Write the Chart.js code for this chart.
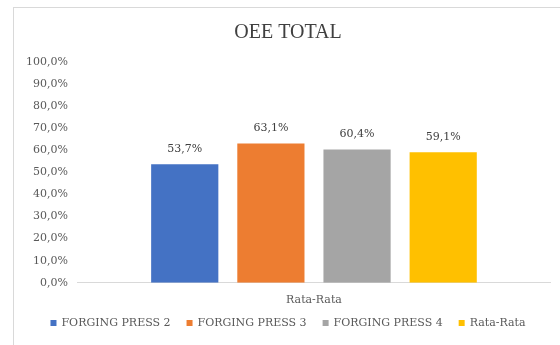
<!DOCTYPE html>
<html>
<head>
<meta charset="utf-8">
<script src="https://cdn.jsdelivr.net/npm/chart.js@4"></script>
<style>
  body { margin: 0; background: #fff; }
  #frame { position: absolute; left: 13px; top: 7px; width: 560px; height: 400px; border: 1px solid #d9d9d9; box-sizing: border-box; }
  #wrap { position: absolute; left: 0; top: 0; width: 560px; height: 345px; }
</style>
</head>
<body>
<div id="frame"></div>
<div id="wrap"><canvas id="chart" width="560" height="345"></canvas></div>
<script>
const categories = ['Rata-Rata'];
const seriesNames = ['FORGING PRESS 2', 'FORGING PRESS 3', 'FORGING PRESS 4', 'Rata-Rata'];
const seriesValues = [53.7, 63.1, 60.4, 59.1];
const seriesColors = ['#4472C4', '#ED7D31', '#A5A5A5', '#FFC000'];

const titleFont = "'Liberation Serif', 'Times New Roman', serif";
const textFont = "'DejaVu Serif', serif";

function pct(v) {
  return v.toFixed(1).replace('.', ',') + '%';
}

// value above each bar
const valueLabels = {
  id: 'valueLabels',
  afterDatasetsDraw(chart) {
    const ctx = chart.ctx;
    ctx.save();
    ctx.font = '11px ' + textFont;
    ctx.fillStyle = '#404040';
    ctx.textAlign = 'center';
    ctx.textBaseline = 'middle';
    chart.data.datasets.forEach((ds, i) => {
      chart.getDatasetMeta(i).data.forEach((bar, j) => {
        ctx.fillText(pct(ds.data[j]), bar.x, bar.y - 15);
      });
    });
    ctx.restore();
  }
};

// excel-like legend under the axis, centred on the whole chart
const bottomLegend = {
  id: 'bottomLegend',
  afterDraw(chart) {
    const ctx = chart.ctx;
    const box = 6, gap = 5, spacing = 16, y = 323;
    ctx.save();
    ctx.font = '11px ' + textFont;
    ctx.textBaseline = 'middle';
    const items = chart.data.datasets.map(ds => ({
      text: ds.label,
      color: ds.backgroundColor,
      w: box + gap + ctx.measureText(ds.label).width
    }));
    const total = items.reduce((s, it) => s + it.w, 0) + spacing * (items.length - 1);
    let x = (16 + chart.width) / 2 - total / 2;
    items.forEach(it => {
      ctx.fillStyle = it.color;
      ctx.fillRect(x, y - box / 2, box, box);
      ctx.fillStyle = '#595959';
      ctx.fillText(it.text, x + box + gap, y);
      x += it.w + spacing;
    });
    ctx.restore();
  }
};

new Chart(document.getElementById('chart'), {
  type: 'bar',
  data: {
    labels: categories,
    datasets: seriesNames.map((name, i) => ({
      label: name,
      data: [seriesValues[i]],
      backgroundColor: seriesColors[i],
      borderWidth: 0
    }))
  },
  options: {
    responsive: false,
    animation: false,
    categoryPercentage: 0.73,
    barPercentage: 0.78,
    layout: { padding: { left: 16, right: 0, top: 21, bottom: 27 } },
    plugins: {
      title: {
        display: true,
        text: 'OEE TOTAL',
        color: '#404040',
        font: { family: titleFont, size: 20, weight: 'normal' },
        padding: { top: 0, bottom: 17 }
      },
      legend: { display: false },
      tooltip: { enabled: false }
    },
    scales: {
      x: {
        grid: { display: false, drawTicks: false },
        border: { color: '#d9d9d9' },
        ticks: { color: '#595959', font: { family: textFont, size: 11 }, padding: 11 }
      },
      y: {
        min: 0,
        max: 100,
        grid: { display: false, drawTicks: false },
        border: { display: false },
        ticks: {
          stepSize: 10,
          padding: 10,
          color: '#595959',
          font: { family: textFont, size: 11 },
          callback: (v) => pct(v)
        }
      },
      // empty right axis: keeps the plot off the right edge
      yRight: {
        position: 'right',
        grid: { display: false, drawTicks: false },
        border: { display: false },
        ticks: { display: false },
        afterFit: (s) => { s.width = 10; }
      }
    }
  },
  plugins: [valueLabels, bottomLegend]
});
</script>
</body>
</html>
